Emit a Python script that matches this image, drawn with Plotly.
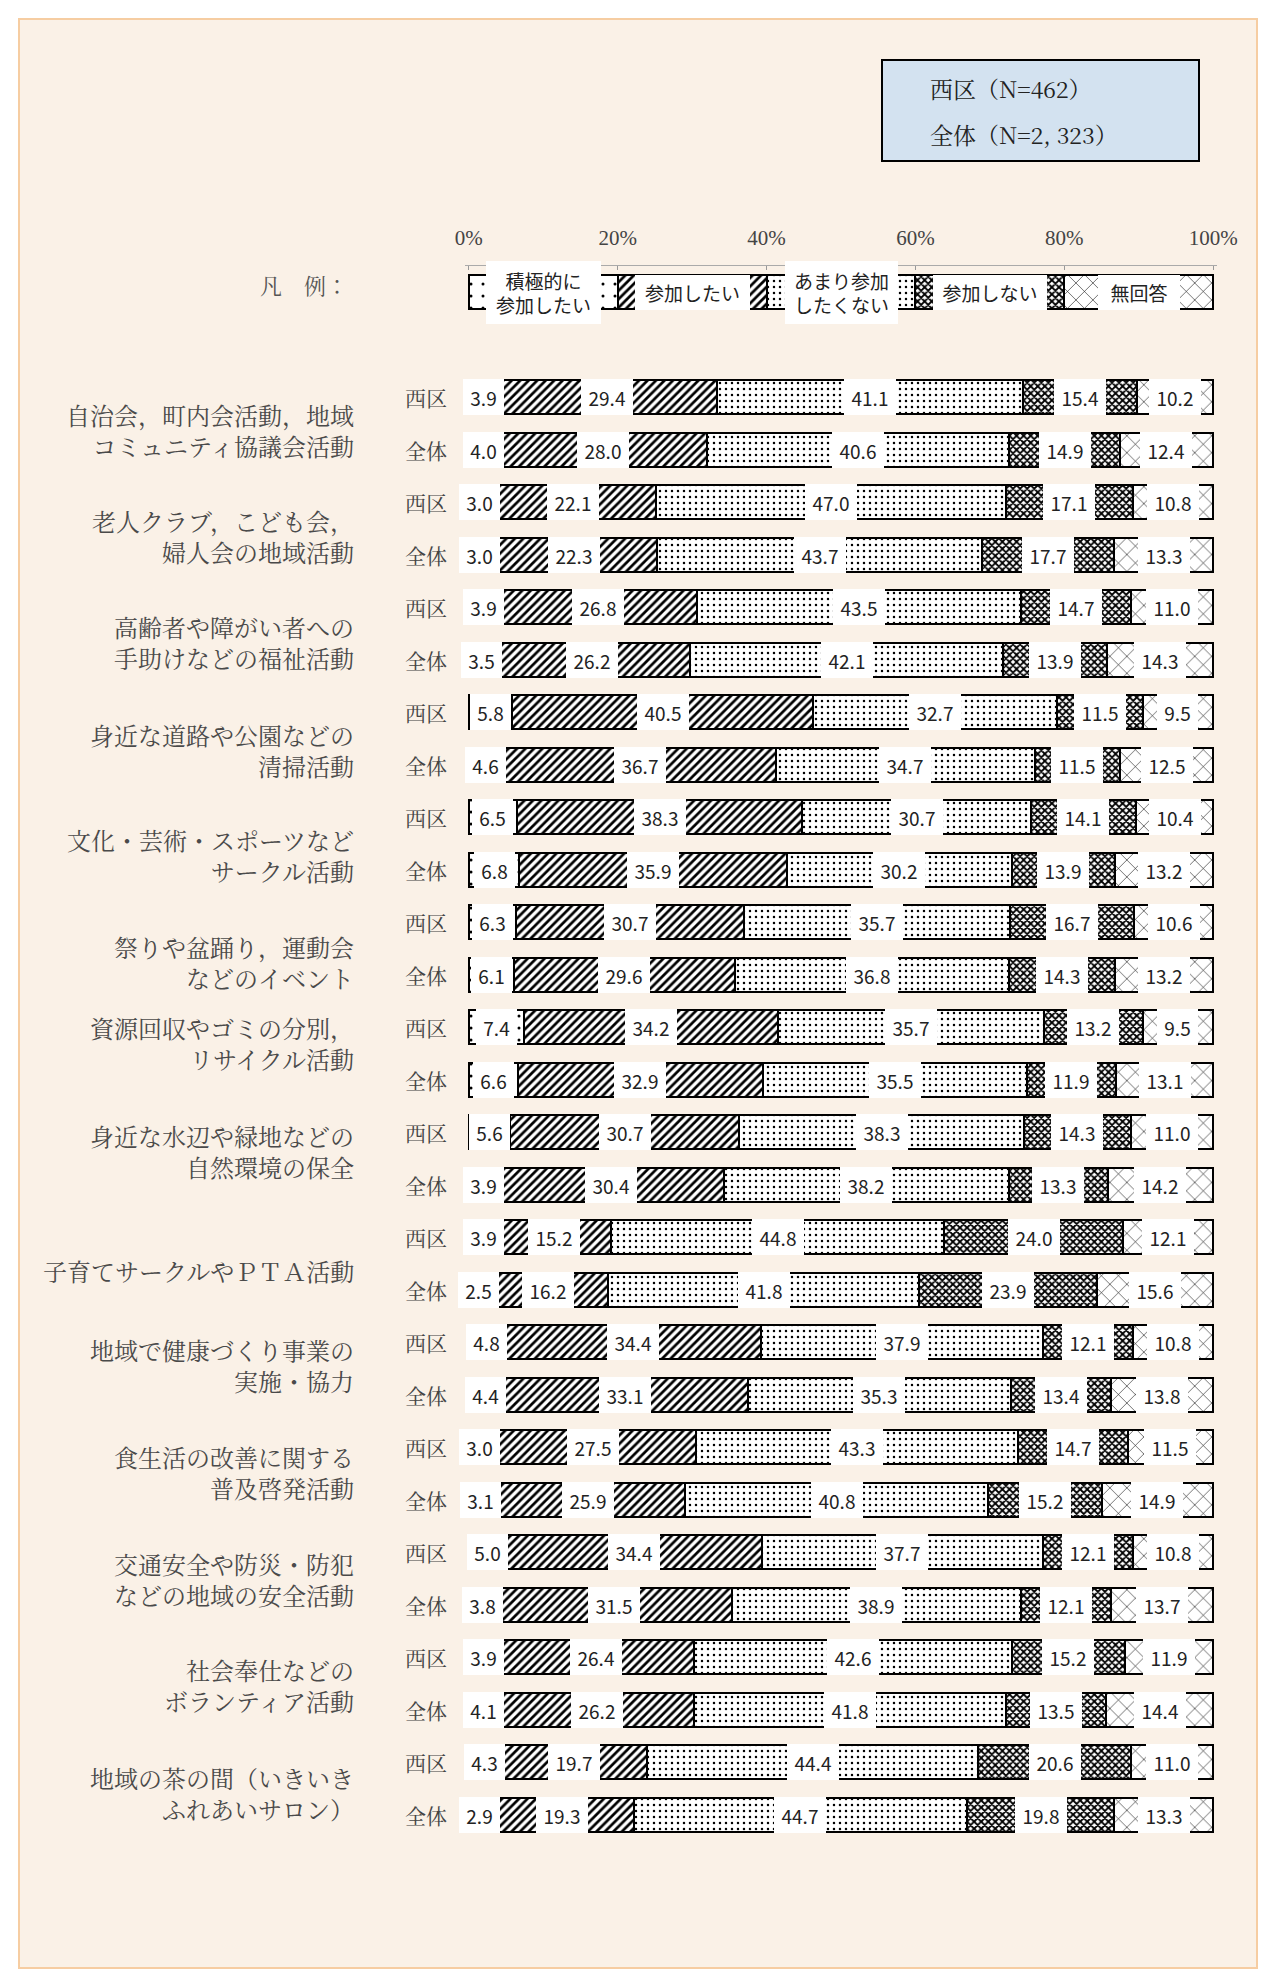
import plotly.graph_objects as go

# ---- data -------------------------------------------------------------
CATEGORIES = [
    "自治会，町内会活動，地域<br>コミュニティ協議会活動",
    "老人クラブ，こども会，<br>婦人会の地域活動",
    "高齢者や障がい者への<br>手助けなどの福祉活動",
    "身近な道路や公園などの<br>清掃活動",
    "文化・芸術・スポーツなど<br>サークル活動",
    "祭りや盆踊り，運動会<br>などのイベント",
    "資源回収やゴミの分別，<br>リサイクル活動",
    "身近な水辺や緑地などの<br>自然環境の保全",
    "子育てサークルやＰＴＡ活動",
    "地域で健康づくり事業の<br>実施・協力",
    "食生活の改善に関する<br>普及啓発活動",
    "交通安全や防災・防犯<br>などの地域の安全活動",
    "社会奉仕などの<br>ボランティア活動",
    "地域の茶の間（いきいき<br>ふれあいサロン）",
]
GROUPS = ["西区", "全体"]
RESPONSES = ["積極的に<br>参加したい", "参加したい", "あまり参加<br>したくない", "参加しない", "無回答"]
LEGEND_SHARE = [20, 20, 20, 20, 20]

WEST_ACTIVE = [3.9, 3.0, 3.9, 5.8, 6.5, 6.3, 7.4, 5.6, 3.9, 4.8, 3.0, 5.0, 3.9, 4.3]
ALL_ACTIVE = [4.0, 3.0, 3.5, 4.6, 6.8, 6.1, 6.6, 3.9, 2.5, 4.4, 3.1, 3.8, 4.1, 2.9]
WEST_WANT = [29.4, 22.1, 26.8, 40.5, 38.3, 30.7, 34.2, 30.7, 15.2, 34.4, 27.5, 34.4, 26.4, 19.7]
ALL_WANT = [28.0, 22.3, 26.2, 36.7, 35.9, 29.6, 32.9, 30.4, 16.2, 33.1, 25.9, 31.5, 26.2, 19.3]
WEST_RELUCTANT = [41.1, 47.0, 43.5, 32.7, 30.7, 35.7, 35.7, 38.3, 44.8, 37.9, 43.3, 37.7, 42.6, 44.4]
ALL_RELUCTANT = [40.6, 43.7, 42.1, 34.7, 30.2, 36.8, 35.5, 38.2, 41.8, 35.3, 40.8, 38.9, 41.8, 44.7]
WEST_NO = [15.4, 17.1, 14.7, 11.5, 14.1, 16.7, 13.2, 14.3, 24.0, 12.1, 14.7, 12.1, 15.2, 20.6]
ALL_NO = [14.9, 17.7, 13.9, 11.5, 13.9, 14.3, 11.9, 13.3, 23.9, 13.4, 15.2, 12.1, 13.5, 19.8]
WEST_NA = [10.2, 10.8, 11.0, 9.5, 10.4, 10.6, 9.5, 11.0, 12.1, 10.8, 11.5, 10.8, 11.9, 11.0]
ALL_NA = [12.4, 13.3, 14.3, 12.5, 13.2, 13.2, 13.1, 14.2, 15.6, 13.8, 14.9, 13.7, 14.4, 13.3]

SAMPLE_SIZES = ["西区（N=462）", "全体（N=2, 323）"]
TICK_VALUES = [0, 20, 40, 60, 80, 100]
TICK_TEXT = ["0%", "20%", "40%", "60%", "80%", "100%"]

# ---- layout constants ---------------------------------------------------
W, H = 1271, 1977
ML, MR, MT, MB = 465, 54, 266, 136
PW, PH = W - ML - MR, H - MT - MB

SERIF = "Noto Serif CJK JP, Noto Sans CJK JP, Liberation Serif, serif"
GOTHIC = "Noto Sans CJK JP, Liberation Sans, sans-serif"
TICKFONT = "Liberation Serif, DejaVu Serif, serif"


def px_x(px):
    return (px - ML) / PW


def px_y(py):
    return 1 - (py - MT) / PH


west_series = [WEST_ACTIVE, WEST_WANT, WEST_RELUCTANT, WEST_NO, WEST_NA]
all_series = [ALL_ACTIVE, ALL_WANT, ALL_RELUCTANT, ALL_NO, ALL_NA]

# rows: legend sample at -2, then 西区/全体 pairs for each category
LEGEND_ROW = -2
rows = [LEGEND_ROW] + list(range(2 * len(CATEGORIES)))
series_rows = []
for k in range(len(RESPONSES)):
    vals = [LEGEND_SHARE[k]]
    for w, a in zip(west_series[k], all_series[k]):
        vals += [w, a]
    series_rows.append(vals)

PATTERNS = [
    dict(shape=".", size=12, solidity=0.05),
    dict(shape="/", size=6, solidity=0.45),
    dict(shape=".", size=6, solidity=0.13),
    dict(shape="x", size=5, solidity=0.6),
    dict(shape="x", size=12, solidity=0.09),
]

fig = go.Figure()
for k, name in enumerate(RESPONSES):
    fig.add_trace(go.Bar(
        x=series_rows[k],
        y=rows,
        orientation="h",
        name=name.replace("<br>", ""),
        width=0.65,
        marker=dict(
            color="white",
            line=dict(color="black", width=2),
            pattern=dict(fgcolor="black", bgcolor="white", fillmode="replace",
                         **PATTERNS[k]),
        ),
        hoverinfo="skip",
        showlegend=False,
    ))

annotations = []

# value labels sitting on white boxes at the centre of each segment
for i, r in enumerate(rows):
    if r == LEGEND_ROW:
        continue
    cum = 0.0
    for k in range(len(RESPONSES)):
        v = series_rows[k][i]
        txt = f"{v:.1f}"
        annotations.append(dict(
            x=cum + v / 2, y=r, xref="x", yref="y", text=txt,
            xanchor="center", yanchor="middle",
            showarrow=False, bgcolor="white", borderpad=0, borderwidth=0,
            width=41 if len(txt) <= 3 else 52, height=36,
            font=dict(family=GOTHIC, size=19, color="#222"),
        ))
        cum += v

# legend sample labels
legend_widths = [115, 115, 113, 114, 82]
cum = 0.0
for k, name in enumerate(RESPONSES):
    v = LEGEND_SHARE[k]
    annotations.append(dict(
        x=cum + v / 2, y=LEGEND_ROW, xref="x", yref="y", text=name,
        xanchor="center", yanchor="middle",
        showarrow=False, bgcolor="white", borderpad=0, borderwidth=0,
        width=legend_widths[k], height=63 if "<br>" in name else 35,
        font=dict(family=GOTHIC, size=19, color="#222"),
    ))
    cum += v

annotations.append(dict(
    x=px_x(258), y=LEGEND_ROW, xref="paper", yref="y", text="凡　例：",
    xanchor="left", yanchor="middle", showarrow=False, yshift=8,
    font=dict(family=SERIF, size=22, color="#555"),
))

# group (西区 / 全体) labels
for r in range(2 * len(CATEGORIES)):
    annotations.append(dict(
        x=px_x(426), y=r, xref="paper", yref="y", text=GROUPS[r % 2],
        xanchor="center", yanchor="middle",
        showarrow=False, font=dict(family=SERIF, size=21, color="#444"),
    ))

# category labels, right aligned
label_shift = [6, 7, 8, 11, 11, 13, -11, -8, 7, -4, -2, 0, 1, 4]
for c, cat in enumerate(CATEGORIES):
    annotations.append(dict(
        x=px_x(356), y=2 * c + 0.5, xref="paper", yref="y", text=cat,
        xanchor="right", yanchor="middle", align="right", showarrow=False,
        yshift=-label_shift[c],
        font=dict(family=SERIF, size=24, color="#4a4a4a"),
    ))

# sample size box
for j, s in enumerate(SAMPLE_SIZES):
    annotations.append(dict(
        x=px_x(928), y=px_y(88 + 46 * j), xref="paper", yref="paper", text=s,
        xanchor="left", yanchor="middle", showarrow=False,
        font=dict(family=SERIF, size=23, color="#222"),
    ))

shapes = [
    dict(type="rect", xref="paper", yref="paper", layer="below",
         x0=px_x(19), x1=px_x(1257), y0=px_y(19), y1=px_y(1968),
         fillcolor="#FAF1E7", line=dict(color="#F6CDA2", width=2)),
    dict(type="rect", xref="paper", yref="paper",
         x0=px_x(882), x1=px_x(1199), y0=px_y(60), y1=px_y(161),
         fillcolor="#D3E2F0", line=dict(color="black", width=2)),
]

fig.update_layout(
    width=W, height=H,
    margin=dict(l=ML, r=MR, t=MT, b=MB),
    barmode="stack",
    paper_bgcolor="white",
    plot_bgcolor="rgba(0,0,0,0)",
    annotations=annotations,
    shapes=shapes,
    xaxis=dict(
        range=[-0.5, 100.5], side="top", tickvals=TICK_VALUES, ticktext=TICK_TEXT,
        showgrid=False, zeroline=False, showline=True, linecolor="#aaa", linewidth=1,
        ticks="inside", ticklen=4, tickcolor="#999", ticklabelstandoff=12,
        tickfont=dict(family=TICKFONT, size=21, color="#444"),
        fixedrange=True,
    ),
    yaxis=dict(range=[27.5, -2.5], visible=False, fixedrange=True),
)

fig.write_html("out.html")
